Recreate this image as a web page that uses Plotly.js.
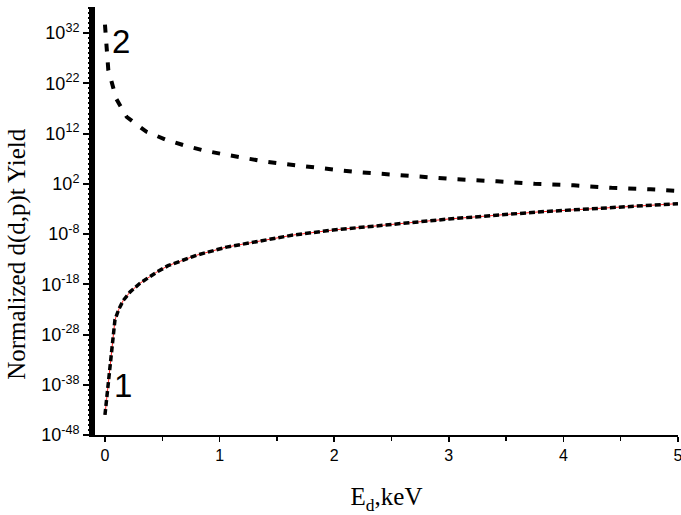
<!DOCTYPE html>
<html>
<head>
<meta charset="utf-8">
<script src="https://cdn.plot.ly/plotly-3.0.1.min.js"></script>
<style>html,body{margin:0;padding:0;background:#fff;}#chart{width:681px;height:515px;}</style>
</head>
<body>
<div id="chart"></div>
<script>
// Curve 1 (lower): energy in keV and log10 of normalized yield
const energy1 = [0, 0.044, 0.087, 0.12, 0.16, 0.22, 0.305, 0.45, 0.55, 0.8, 1.06, 1.35, 1.64, 1.99, 2.39, 2.57, 3.0, 3.78, 4.0, 5.0];
const logYield1 = [-44, -34.5, -25.1, -23.0, -21.2, -19.5, -17.8, -15.6, -14.3, -12.2, -10.6, -9.4, -8.2, -7.2, -6.3, -5.9, -5.0, -3.6, -3.3, -1.95];
// Curve 2 (upper, dashed)
const energy2 = [0, 0.029, 0.099, 0.19, 0.36, 0.53, 0.7, 0.87, 1.03, 1.21, 1.38, 1.55, 1.72, 1.88, 2.05, 2.23, 2.39, 2.73, 3.07, 3.42, 3.75, 4.09, 4.42, 4.76, 5.0];
const logYield2 = [33.7, 24.7, 18.9, 15.3, 12.4, 10.8, 9.6, 8.6, 7.9, 7.1, 6.5, 6.0, 5.5, 5.1, 4.7, 4.3, 4.0, 3.5, 2.9, 2.5, 2.0, 1.7, 1.2, 0.9, 0.6];
// Axis ticks
const yTickExponents = [-48, -38, -28, -18, -8, 2, 12, 22, 32];
const yTickLabels = yTickExponents.map(e => '10<sup>' + e + '</sup>');
const xTickVals = [0, 1, 2, 3, 4, 5];
const xTickLabels = ['0', '1', '2', '3', '4', '5'];
const xMinorVals = [0.5, 1.5, 2.5, 3.5, 4.5];
const curveLabels = ['1', '2'];

const toVal = a => a.map(v => Math.pow(10, v));
const y1 = toVal(logYield1);
const y2 = toVal(logYield2);

const yMinorVals = [];
for (let e = -48; e <= 37; e++) yMinorVals.push(Math.pow(10, e));

const sans = 'Liberation Sans';
const serif = 'Liberation Serif';

const traces = [
  {x: energy1, y: y1, mode: 'lines', line: {color: '#ff2020', width: 1}, hoverinfo: 'skip'},
  {x: energy1, y: y1, mode: 'lines', line: {color: '#000', width: 3.5, dash: '6px,3px'}},
  {x: energy2, y: y2, mode: 'lines', line: {color: '#000', width: 4, dash: '8px,11px'}},
  // invisible carrier for the minor-tick axes
  {x: [energy1[0]], y: [y1[0]], xaxis: 'x2', yaxis: 'y2', mode: 'markers', marker: {opacity: 0}, hoverinfo: 'skip'}
];

const layout = {
  width: 681, height: 515,
  margin: {l: 95, r: 3, t: 7, b: 80},
  paper_bgcolor: '#fff', plot_bgcolor: '#fff',
  showlegend: false,
  font: {family: sans, color: '#000', size: 16},
  xaxis: {
    range: [-0.087, 5],
    showgrid: false, zeroline: false,
    showline: true, linecolor: '#000', linewidth: 1.5,
    ticks: 'outside', ticklen: 5, tickwidth: 1.5, tickcolor: '#000',
    tickmode: 'array', tickvals: xTickVals, ticktext: xTickLabels,
    ticklabeloverflow: 'allow',
    tickfont: {size: 16, family: sans, color: '#000'},
    title: {text: 'E<sub>d</sub>,keV', font: {size: 25, family: serif, color: '#000'}, standoff: 25}
  },
  xaxis2: {
    overlaying: 'x', anchor: 'y', side: 'bottom', range: [-0.087, 5],
    showgrid: false, zeroline: false, showline: false, showticklabels: false,
    ticks: 'outside', ticklen: 5, tickwidth: 1.5, tickcolor: '#000',
    tickmode: 'array', tickvals: xMinorVals
  },
  yaxis: {
    type: 'log',
    range: [-48, 37.2],
    showgrid: false, zeroline: false,
    showline: true, linecolor: '#000', linewidth: 6,
    ticks: 'outside', ticklen: 6, tickwidth: 2, tickcolor: '#000',
    tickmode: 'array', tickvals: toVal(yTickExponents), ticktext: yTickLabels,
    tickfont: {size: 18, family: sans, color: '#000'}
  },
  yaxis2: {
    overlaying: 'y', anchor: 'x', side: 'left', type: 'log', range: [-48, 37.2],
    showgrid: false, zeroline: false, showline: false, showticklabels: false,
    ticks: 'outside', ticklen: 6, tickwidth: 2, tickcolor: '#000',
    tickmode: 'array', tickvals: yMinorVals
  },
  annotations: [
    {xref: 'paper', yref: 'paper', x: -0.134, y: 0.423, xanchor: 'center', yanchor: 'middle', textangle: -90, showarrow: false,
     text: 'Normalized d(d,p)t Yield', font: {size: 25, family: serif, color: '#000'}},
    {xref: 'x', yref: 'y', x: 0.157, y: -38.2, showarrow: false, text: curveLabels[0], font: {size: 33, family: sans, color: '#000'}},
    {xref: 'x', yref: 'y', x: 0.14, y: 30.3, showarrow: false, text: curveLabels[1], font: {size: 33, family: sans, color: '#000'}}
  ]
};

Plotly.newPlot('chart', traces, layout, {displayModeBar: false, staticPlot: true});
</script>
</body>
</html>
